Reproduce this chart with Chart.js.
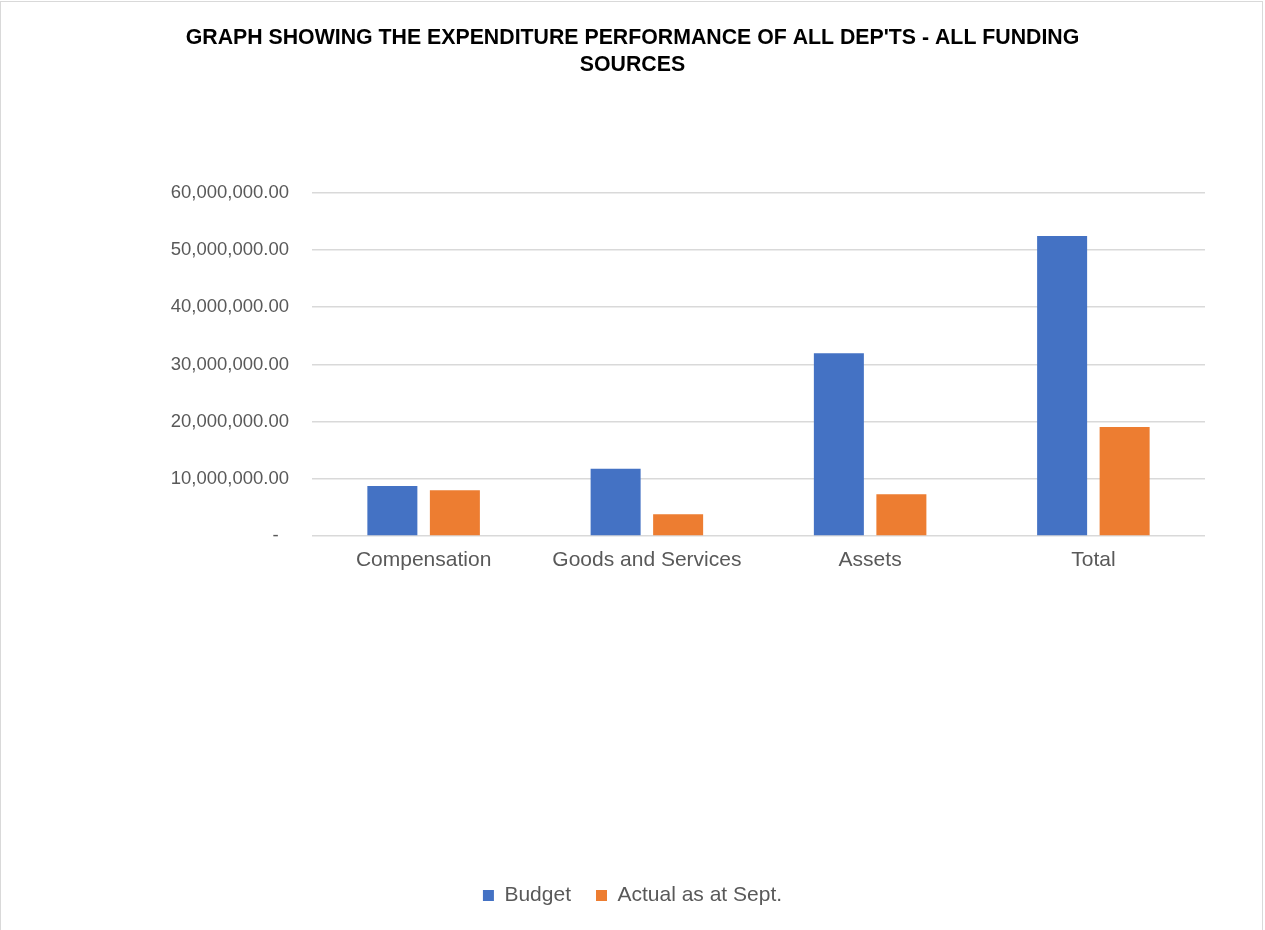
<!DOCTYPE html>
<html>
<head>
<meta charset="utf-8">
<title>Expenditure performance</title>
<script src="https://cdn.jsdelivr.net/npm/chart.js@4.4.1/dist/chart.umd.min.js"></script>
<style>
    body { margin: 0; background: #fff; overflow: hidden; }
    #frame {
        position: absolute; left: 0; top: 1px; width: 1261px; height: 960px;
        border: 1px solid #d9d9d9; pointer-events: none;
    }
    #expChart { position: absolute; left: 0; top: 0; }
</style>
</head>
<body>
<canvas id="expChart" width="1265" height="930"></canvas>
<div id="frame"></div>
<script>
// data
const categories = ['Compensation', 'Goods and Services', 'Assets', 'Total'];
const budget = [8740000, 11770000, 31940000, 52450000];
const actual = [7990000, 3790000, 7290000, 19060000];
const seriesNames = ['Budget', 'Actual as at Sept.'];
const titleLines = ["GRAPH SHOWING THE EXPENDITURE PERFORMANCE OF ALL DEP'TS - ALL FUNDING", 'SOURCES'];

const grey = '#595959';
const fontName = "'Liberation Sans', Arial, sans-serif";

function moneyLabel(v) {
    if (v === 0) return '-  ';
    return v.toLocaleString('en-US', { minimumFractionDigits: 2, maximumFractionDigits: 2 });
}

const ctx = document.getElementById('expChart');
const expChart = new Chart(ctx, {
    type: 'bar',
    data: {
        labels: categories,
        datasets: [{
            label: seriesNames[0],
            data: budget,
            backgroundColor: '#4472C4'
        }, {
            label: seriesNames[1],
            data: actual,
            backgroundColor: '#ED7D31'
        }]
    },
    options: {
        responsive: false,
        animation: false,
        datasets: { bar: { categoryPercentage: 0.56, barPercentage: 0.8 } },
        layout: { padding: { left: 0, right: 0, top: 0, bottom: 14 } },
        scales: {
            x: {
                grid: { display: false, drawTicks: false },
                border: { display: false },
                ticks: { color: grey, padding: 12, font: { family: fontName, size: 21 } },
                afterFit: function (scale) { scale.height = 324; }
            },
            y: {
                min: 0,
                max: 60000000,
                grid: { color: '#d9d9d9', lineWidth: 1.5, drawTicks: false },
                border: { display: false },
                ticks: {
                    stepSize: 10000000,
                    color: grey,
                    padding: 23,
                    font: { family: fontName, size: 18.5 },
                    callback: function (v) { return moneyLabel(v); }
                },
                afterFit: function (scale) { scale.width = 312; }
            },
            // empty right-hand spacer so title and legend stay centred on the page
            spacer: {
                position: 'right',
                grid: { display: false, drawTicks: false },
                border: { display: false },
                ticks: { display: false },
                afterFit: function (scale) { scale.width = 60; }
            }
        },
        plugins: {
            title: {
                display: true,
                text: titleLines,
                color: '#000',
                font: { family: fontName, size: 21.3, weight: 'bold', lineHeight: 1.24 },
                padding: { top: 25, bottom: 115 }
            },
            legend: {
                position: 'bottom',
                labels: {
                    color: grey,
                    boxWidth: 11,
                    boxHeight: 11,
                    padding: 25,
                    font: { family: fontName, size: 21 }
                }
            },
            tooltip: { enabled: false }
        }
    }
});
</script>
</body>
</html>
